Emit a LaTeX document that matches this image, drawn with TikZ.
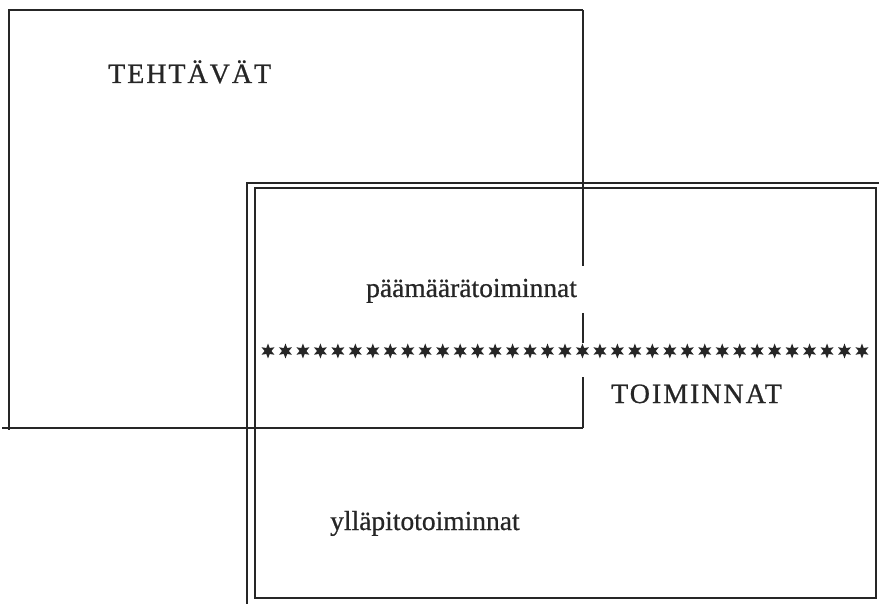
\documentclass[tikz,border=0pt]{standalone}
\usepackage{fontspec}
\setmainfont[FakeBold=0.7]{Liberation Serif}
\newfontfamily\capsfont[LetterSpace=7,FakeBold=0.7]{Liberation Serif}
\usetikzlibrary{shapes.geometric}
\tikzset{
  frame/.style={line width=1.4pt, draw=black!85},
  label/.style={anchor=base west, inner sep=0pt, font=\fontsize{27.5}{30}\selectfont, text=black!85},
  caplabel/.style={label, font=\fontsize{28}{30}\selectfont\capsfont},
  asterisk/.style={star, star points=6, star point ratio=2.2, minimum size=15pt, inner sep=0pt, fill=black!85, draw=none},
}
\begin{document}
\begin{tikzpicture}[x=1pt, y=-1pt]
  \useasboundingbox (0,0) rectangle (879,604);

  % task box (TEHTAVAT): left, top and bottom edges
  \draw[frame] (583,10) -- (9,10) -- (9,430);
  \draw[frame] (2,428) -- (583,428);
  % its right edge, broken around the labels and the star row
  \draw[frame] (583,10) -- (583,266);
  \draw[frame] (583,313) -- (583,343);
  \draw[frame] (583,377) -- (583,428);

  % activity box (TOIMINNAT): double outer corner and inner frame
  \draw[frame] (247,604) -- (247,183) -- (879,183);
  \draw[frame] (255,188) rectangle (876,598);

  % row of asterisks dividing the activities
  \foreach \i in {0,...,34}
    \node[asterisk] (s\i) at ({268+\i*17.47},351) {};

  % labels
  \node[caplabel] (tehtavat) at (108,83) {TEHTÄVÄT};
  \node[label] (paamaara) at (366,297) {päämäärätoiminnat};
  \node[caplabel] (toiminnat) at (611,403) {TOIMINNAT};
  \node[label] (yllapito) at (330,530) {ylläpitotoiminnat};
\end{tikzpicture}
\end{document}
